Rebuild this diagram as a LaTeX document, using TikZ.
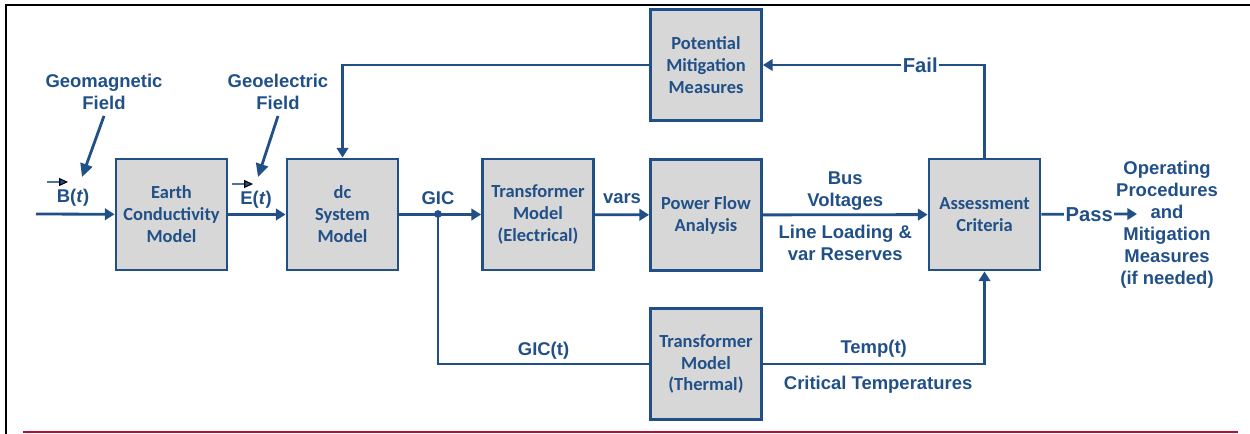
\documentclass[tikz,border=0pt]{standalone}
\usepackage{fontspec}
\setmainfont{Liberation Sans}
\newfontfamily\boxfont{Carlito}
\usetikzlibrary{arrows.meta}
\definecolor{dblue}{RGB}{33,80,136}
\definecolor{boxgray}{RGB}{215,215,215}
\definecolor{rulered}{RGB}{178,16,52}

\begin{document}
\begin{tikzpicture}[
				x=0.2mm, y=-0.2mm,
				block/.style = {draw=dblue, line width=1.6pt, fill=boxgray, text=dblue, minimum width=22.2mm, minimum height=22.2mm, align=center, inner sep=1pt, font=\boxfont\bfseries\fontsize{10.5}{12.5}\selectfont},
				lbl/.style = {text=dblue, align=center, font=\bfseries\fontsize{10.5}{12.5}\selectfont},
				verdict/.style = {lbl, fill=white, inner sep=0.8pt, font=\bfseries\fontsize{11.5}{13}\selectfont},
				wire/.style = {draw=dblue, line width=1.6pt},
				flow/.style = {wire, -{Triangle[length=5.5pt,width=6.5pt]}},
				bigflow/.style = {wire, -{Triangle[length=7.5pt,width=7pt]}},
				vec/.style = {draw=dblue!80, line width=0.6pt, -{Triangle[length=5pt,width=4.5pt,color=black,fill=dblue]}}
			]
			\useasboundingbox (0,0) rectangle (1250,434);
			% frame
			\draw[line width=1.1pt] (6,434) -- (6,5) -- (1250,5);
			\draw[rulered, line width=1.3pt] (23,432) -- (1238,432);

			\node[block] (earth) at (171.5,214.5) {Earth\\Conductivity\\Model};
			\node[block] (dcsys) at (342.5,214.5) {dc\\System\\Model};
			\node[block] (trelec) at (538,214.5) {Transformer\\Model\\(Electrical)};
			\node[block] (pflow) at (706,215) {Power Flow\\Analysis};
			\node[block] (assess) at (984.5,214.5) {Assessment\\Criteria};
			\node[block] (mitig) at (706,65) {Potential\\Mitigation\\Measures};
			\node[block] (trtherm) at (706,364) {Transformer\\Model\\(Thermal)};

			\node[lbl] (geomag) at (104,92) {Geomagnetic\\Field};
			\node[lbl] (geoel) at (278,92) {Geoelectric\\Field};
			\node[lbl] (blab) at (73,198) {B(\textit{t})};
			\node[lbl] (elab) at (256,200) {E(\textit{t})};
			\node[lbl] (oper) at (1167,224.5) {Operating\\Procedures\\and\\Mitigation\\Measures\\(if needed)};

			\coordinate (bin) at (36,214);
			\coordinate (btip) at (82,177);
			\coordinate (etip) at (258,177);
			\coordinate (gicjn) at (438,214);
			\coordinate (passend) at (1137,214);

			\draw[bigflow] (geomag.south) -- (btip);
			\draw[bigflow] (geoel.south) -- (etip);
			\draw[vec] (47,182) -- (68,182);
			\draw[vec] (232,184) -- (253,184);

			\draw[flow] (bin) to (earth);
			\draw[flow] (earth) to (dcsys);
			\draw[flow] (dcsys) to (trelec);
			\fill[dblue] (gicjn) circle (2.2pt);
			\node[lbl, above=2pt] at (gicjn) {GIC};
			\draw[flow] (trelec) to node[lbl, above=2pt] {vars} (pflow);
			\draw[flow] (pflow) to node[lbl, above=-1.5pt] {Bus\\Voltages} node[lbl, below=2pt] {Line Loading \&\\var Reserves} (assess);
			\draw[wire] (gicjn) |- node[lbl, pos=0.75, above=-1.5pt] {GIC(t)} (trtherm);
			\draw[flow] (trtherm) -| node[lbl, pos=0.25, above=-0.5pt] {Temp(t)} node[lbl, pos=0.26, below=2.5pt] {Critical Temperatures} (assess);
			\draw[flow] (assess) |- node[verdict, pos=0.645] {Fail} (mitig);
			\draw[flow] (mitig) -| (dcsys);
			\draw[flow] (assess) to node[verdict] {Pass} (passend);
		\end{tikzpicture}
\end{document}
